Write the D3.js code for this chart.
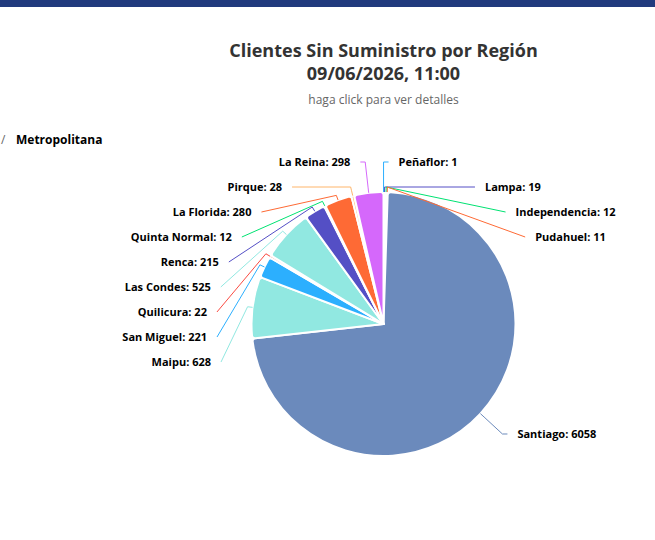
<!DOCTYPE html>
<html>
<head>
<meta charset="utf-8">
<script src="https://cdn.jsdelivr.net/npm/d3@7"></script>
<style>
  html, body { margin: 0; padding: 0; background: #ffffff; }
  svg { display: block; font-family: "Open Sans", "Noto Sans", sans-serif; }
</style>
</head>
<body>
<svg id="chart" width="655" height="540"></svg>
<script>
// ---- Data (clockwise from 12 o'clock) ----
const categories = ["Peñaflor", "Lampa", "Independencia", "Pudahuel", "Santiago", "Maipu",
  "San Miguel", "Quilicura", "Las Condes", "Renca", "Quinta Normal", "La Florida", "Pirque", "La Reina"];
const values = [1, 19, 12, 11, 6058, 628, 221, 22, 525, 215, 12, 280, 28, 298];
const sliceColors = ["#2caffe", "#544fc5", "#00e272", "#fe6a35", "#6b8abc", "#91e8e1",
  "#2caffe", "#fa4b42", "#91e8e1", "#544fc5", "#00e272", "#fe6a35", "#feb56a", "#d568fb"];
const titleLines = ["Clientes Sin Suministro por Región", "09/06/2026, 11:00"];
const subtitleText = "haga click para ver detalles";
const breadcrumbText = "Metropolitana";

// ---- Layout ----
const W = 655, H = 540;
const cx = 383.5, cy = 324, r = 132;
const labelDistance = 30, R = r + labelDistance, labelPad = 5, labelH = 25;

const svg = d3.select("#chart");
svg.append("rect").attr("width", W).attr("height", H).attr("fill", "#ffffff");
svg.append("rect").attr("width", W).attr("height", 7).attr("fill", "#213a7d");

// Title / subtitle
const title = svg.append("text").attr("text-anchor", "middle")
  .attr("font-size", 18).attr("font-weight", 700).attr("fill", "#333333");
titleLines.forEach((t, i) => title.append("tspan").attr("x", cx).attr("y", 57 + i * 23).text(t));
svg.append("text").attr("x", cx).attr("y", 104).attr("text-anchor", "middle")
  .attr("font-size", 12).attr("fill", "#666666").text(subtitleText);

// Breadcrumb
svg.append("text").attr("x", 1).attr("y", 144).attr("font-size", 12).attr("fill", "#666666").text("/");
svg.append("text").attr("x", 16).attr("y", 144).attr("font-size", 12).attr("font-weight", 700)
  .attr("fill", "#000000").text(breadcrumbText);

// ---- Pie ----
const data = categories.map((c, i) => ({ name: c, value: values[i], color: sliceColors[i] }));
const pie = d3.pie().sort(null).value(d => d.value).startAngle(0).endAngle(2 * Math.PI);
const arcs = pie(data);
const arc = d3.arc().innerRadius(0).outerRadius(r).cornerRadius(3);

const g = svg.append("g").attr("transform", `translate(${cx},${cy})`);
g.selectAll("path.slice").data(arcs).join("path")
  .attr("class", "slice")
  .attr("d", arc)
  .attr("fill", d => d.data.color)
  .attr("stroke", "#ffffff")
  .attr("stroke-width", 2)
  .attr("stroke-linejoin", "round");

// ---- Data label layout (Highcharts-like distribution) ----
const topY = cy - R, bottomY = cy + R;
arcs.forEach(a => {
  a.mid = (a.startAngle + a.endAngle) / 2;
  a.natX = cx + Math.sin(a.mid) * R;
  a.natY = cy - Math.cos(a.mid) * R;
  a.left = Math.sin(a.mid) < 0;
});

function distribute(items) {
  items.sort((p, q) => p.natY - q.natY);
  let groups = items.map(it => ({ items: [it] }));
  const place = gr => {
    const n = gr.items.length;
    const mean = d3.mean(gr.items, it => it.natY);
    gr.start = mean - (n - 1) * labelH / 2;
    gr.start = Math.max(topY, Math.min(bottomY - (n - 1) * labelH, gr.start));
  };
  groups.forEach(place);
  let merged = true;
  while (merged) {
    merged = false;
    for (let i = 1; i < groups.length; i++) {
      const a = groups[i - 1], b = groups[i];
      if (a.start + a.items.length * labelH > b.start) {
        a.items = a.items.concat(b.items);
        groups.splice(i, 1);
        place(a);
        merged = true;
        break;
      }
    }
  }
  groups.forEach(gr => gr.items.forEach((it, k) => { it.labelY = gr.start + k * labelH; }));
}
distribute(arcs.filter(a => a.left));
distribute(arcs.filter(a => !a.left));

function getX(y, left) {
  const ang = Math.asin(Math.max(-1, Math.min(1, (y - cy) / R)));
  const s = left ? -1 : 1;
  return cx + s * Math.cos(ang) * R + s * labelPad;
}

arcs.forEach(a => {
  const y = a.labelY;
  const yForX = (y < topY + 2 || y > bottomY - 2) ? a.natY : y;
  a.labelX = getX(yForX, a.left);
  const bx = cx + Math.sin(a.mid) * (r + 5), by = cy - Math.cos(a.mid) * (r + 5);
  const tx = cx + Math.sin(a.mid) * r, ty = cy - Math.cos(a.mid) * r;
  const crookX = cx + (cy - y) * Math.tan(a.mid);
  const pts = [[a.labelX, y]];
  const useCrook = a.left ? (crookX >= a.labelX && crookX <= bx) : (crookX <= a.labelX && crookX >= bx);
  if (useCrook) pts.push([crookX, y]);
  pts.push([bx, by], [tx, ty]);
  a.connector = pts;
});

const labelsG = svg.append("g");
labelsG.selectAll("path.conn").data(arcs).join("path")
  .attr("class", "conn")
  .attr("d", d => d3.line()(d.connector))
  .attr("fill", "none")
  .attr("stroke", d => d.data.color)
  .attr("stroke-width", 1);

labelsG.selectAll("text.lbl").data(arcs).join("text")
  .attr("class", "lbl")
  .attr("x", d => d.left ? d.labelX - 10 : d.labelX + 10)
  .attr("y", d => d.labelY)
  .attr("dy", "0.35em")
  .attr("text-anchor", d => d.left ? "end" : "start")
  .attr("font-size", 11)
  .attr("font-weight", 700)
  .attr("fill", "#000000")
  .attr("stroke", "#ffffff").attr("stroke-width", 2).attr("paint-order", "stroke")
  .text(d => `${d.data.name}: ${d.data.value}`);
</script>
</body>
</html>
